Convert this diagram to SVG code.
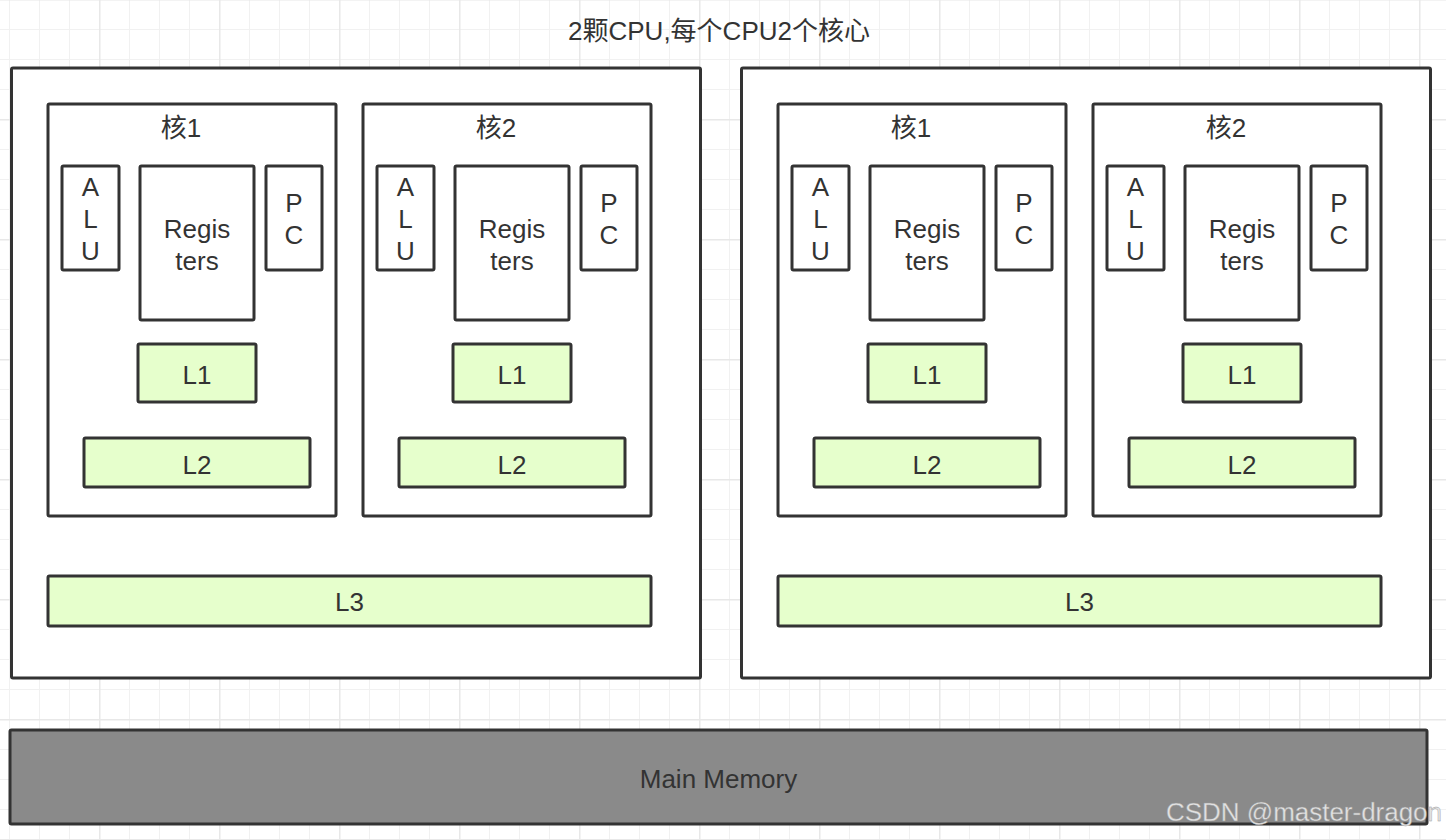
<svg xmlns="http://www.w3.org/2000/svg" xmlns:xlink="http://www.w3.org/1999/xlink" width="1446" height="840" viewBox="0 0 1446 840">
<defs>
<style>
.box{fill:#fff;stroke:#333;stroke-width:3}
.cache{fill:#e6ffcc;stroke:#333;stroke-width:3}
.mem{fill:#8a8a8a;stroke:#333;stroke-width:3}
text{font-family:"Liberation Sans","Noto Sans CJK SC",sans-serif;font-size:26px;fill:#333;text-anchor:middle}
.wm{text-anchor:start;fill:#e2e2e2;stroke:#9a9a9a;stroke-width:0.4}
</style>
<pattern id="grid" patternUnits="userSpaceOnUse" x="99" y="119" width="120" height="120">
<rect x="0" y="0" width="120" height="120" fill="#fff"/>
<rect x="30" y="0" width="1" height="120" fill="#f1f1f1"/>
<rect x="60" y="0" width="1" height="120" fill="#f1f1f1"/>
<rect x="90" y="0" width="1" height="120" fill="#f1f1f1"/>
<rect x="0" y="30" width="120" height="1" fill="#f1f1f1"/>
<rect x="0" y="60" width="120" height="1" fill="#f1f1f1"/>
<rect x="0" y="90" width="120" height="1" fill="#f1f1f1"/>
<rect x="0" y="0" width="1.5" height="120" fill="#e8e8e8"/>
<rect x="0" y="0" width="120" height="1.5" fill="#e8e8e8"/>
</pattern>
</defs>
<rect x="0" y="0" width="1446" height="840" fill="url(#grid)"/>
<g id="title"><text x="719" y="40">2颗CPU,每个CPU2个核心</text></g>

<g id="cpu1">
<rect class="box" x="11.5" y="68" width="689" height="610" rx="1.5"/>
<g id="cpu1-core1">
<rect class="box" x="48" y="104" width="288" height="412" rx="1.5"/>
<text x="181" y="137">核1</text>
<g id="cpu1-core1-alu"><rect class="box" x="62" y="166" width="57" height="104" rx="1.5"/><text x="90.5" y="196">A</text><text x="90.5" y="228">L</text><text x="90.5" y="260">U</text></g>
<g id="cpu1-core1-registers"><rect class="box" x="140" y="166" width="114" height="154" rx="1.5"/><text x="197" y="238">Regis</text><text x="197" y="270">ters</text></g>
<g id="cpu1-core1-pc"><rect class="box" x="266" y="166" width="56" height="104" rx="1.5"/><text x="294" y="212">P</text><text x="294" y="244">C</text></g>
<g id="cpu1-core1-l1"><rect class="cache" x="138" y="344" width="118" height="58" rx="1.5"/><text x="197" y="384">L1</text></g>
<g id="cpu1-core1-l2"><rect class="cache" x="84" y="438" width="226" height="49" rx="1.5"/><text x="197" y="474">L2</text></g>
</g>
<g id="cpu1-core2" transform="translate(315,0)">
<rect class="box" x="48" y="104" width="288" height="412" rx="1.5"/>
<text x="181" y="137">核2</text>
<g id="cpu1-core2-alu"><rect class="box" x="62" y="166" width="57" height="104" rx="1.5"/><text x="90.5" y="196">A</text><text x="90.5" y="228">L</text><text x="90.5" y="260">U</text></g>
<g id="cpu1-core2-registers"><rect class="box" x="140" y="166" width="114" height="154" rx="1.5"/><text x="197" y="238">Regis</text><text x="197" y="270">ters</text></g>
<g id="cpu1-core2-pc"><rect class="box" x="266" y="166" width="56" height="104" rx="1.5"/><text x="294" y="212">P</text><text x="294" y="244">C</text></g>
<g id="cpu1-core2-l1"><rect class="cache" x="138" y="344" width="118" height="58" rx="1.5"/><text x="197" y="384">L1</text></g>
<g id="cpu1-core2-l2"><rect class="cache" x="84" y="438" width="226" height="49" rx="1.5"/><text x="197" y="474">L2</text></g>
</g>
<g id="cpu1-l3"><rect class="cache" x="48" y="576" width="603" height="50" rx="1.5"/><text x="349.5" y="611">L3</text></g>
</g>

<g id="cpu2" transform="translate(730,0)">
<rect class="box" x="11.5" y="68" width="689" height="610" rx="1.5"/>
<g id="cpu2-core1">
<rect class="box" x="48" y="104" width="288" height="412" rx="1.5"/>
<text x="181" y="137">核1</text>
<g id="cpu2-core1-alu"><rect class="box" x="62" y="166" width="57" height="104" rx="1.5"/><text x="90.5" y="196">A</text><text x="90.5" y="228">L</text><text x="90.5" y="260">U</text></g>
<g id="cpu2-core1-registers"><rect class="box" x="140" y="166" width="114" height="154" rx="1.5"/><text x="197" y="238">Regis</text><text x="197" y="270">ters</text></g>
<g id="cpu2-core1-pc"><rect class="box" x="266" y="166" width="56" height="104" rx="1.5"/><text x="294" y="212">P</text><text x="294" y="244">C</text></g>
<g id="cpu2-core1-l1"><rect class="cache" x="138" y="344" width="118" height="58" rx="1.5"/><text x="197" y="384">L1</text></g>
<g id="cpu2-core1-l2"><rect class="cache" x="84" y="438" width="226" height="49" rx="1.5"/><text x="197" y="474">L2</text></g>
</g>
<g id="cpu2-core2" transform="translate(315,0)">
<rect class="box" x="48" y="104" width="288" height="412" rx="1.5"/>
<text x="181" y="137">核2</text>
<g id="cpu2-core2-alu"><rect class="box" x="62" y="166" width="57" height="104" rx="1.5"/><text x="90.5" y="196">A</text><text x="90.5" y="228">L</text><text x="90.5" y="260">U</text></g>
<g id="cpu2-core2-registers"><rect class="box" x="140" y="166" width="114" height="154" rx="1.5"/><text x="197" y="238">Regis</text><text x="197" y="270">ters</text></g>
<g id="cpu2-core2-pc"><rect class="box" x="266" y="166" width="56" height="104" rx="1.5"/><text x="294" y="212">P</text><text x="294" y="244">C</text></g>
<g id="cpu2-core2-l1"><rect class="cache" x="138" y="344" width="118" height="58" rx="1.5"/><text x="197" y="384">L1</text></g>
<g id="cpu2-core2-l2"><rect class="cache" x="84" y="438" width="226" height="49" rx="1.5"/><text x="197" y="474">L2</text></g>
</g>
<g id="cpu2-l3"><rect class="cache" x="48" y="576" width="603" height="50" rx="1.5"/><text x="349.5" y="611">L3</text></g>
</g>

<g id="main-memory"><rect class="mem" x="10" y="730" width="1417" height="94" rx="1.5"/><text x="718.5" y="788">Main Memory</text></g>
<g id="connectors"></g>
<g id="watermark"><text class="wm" x="1166" y="821" font-size="25" textLength="276" lengthAdjust="spacingAndGlyphs">CSDN @master-dragon</text></g>
</svg>
